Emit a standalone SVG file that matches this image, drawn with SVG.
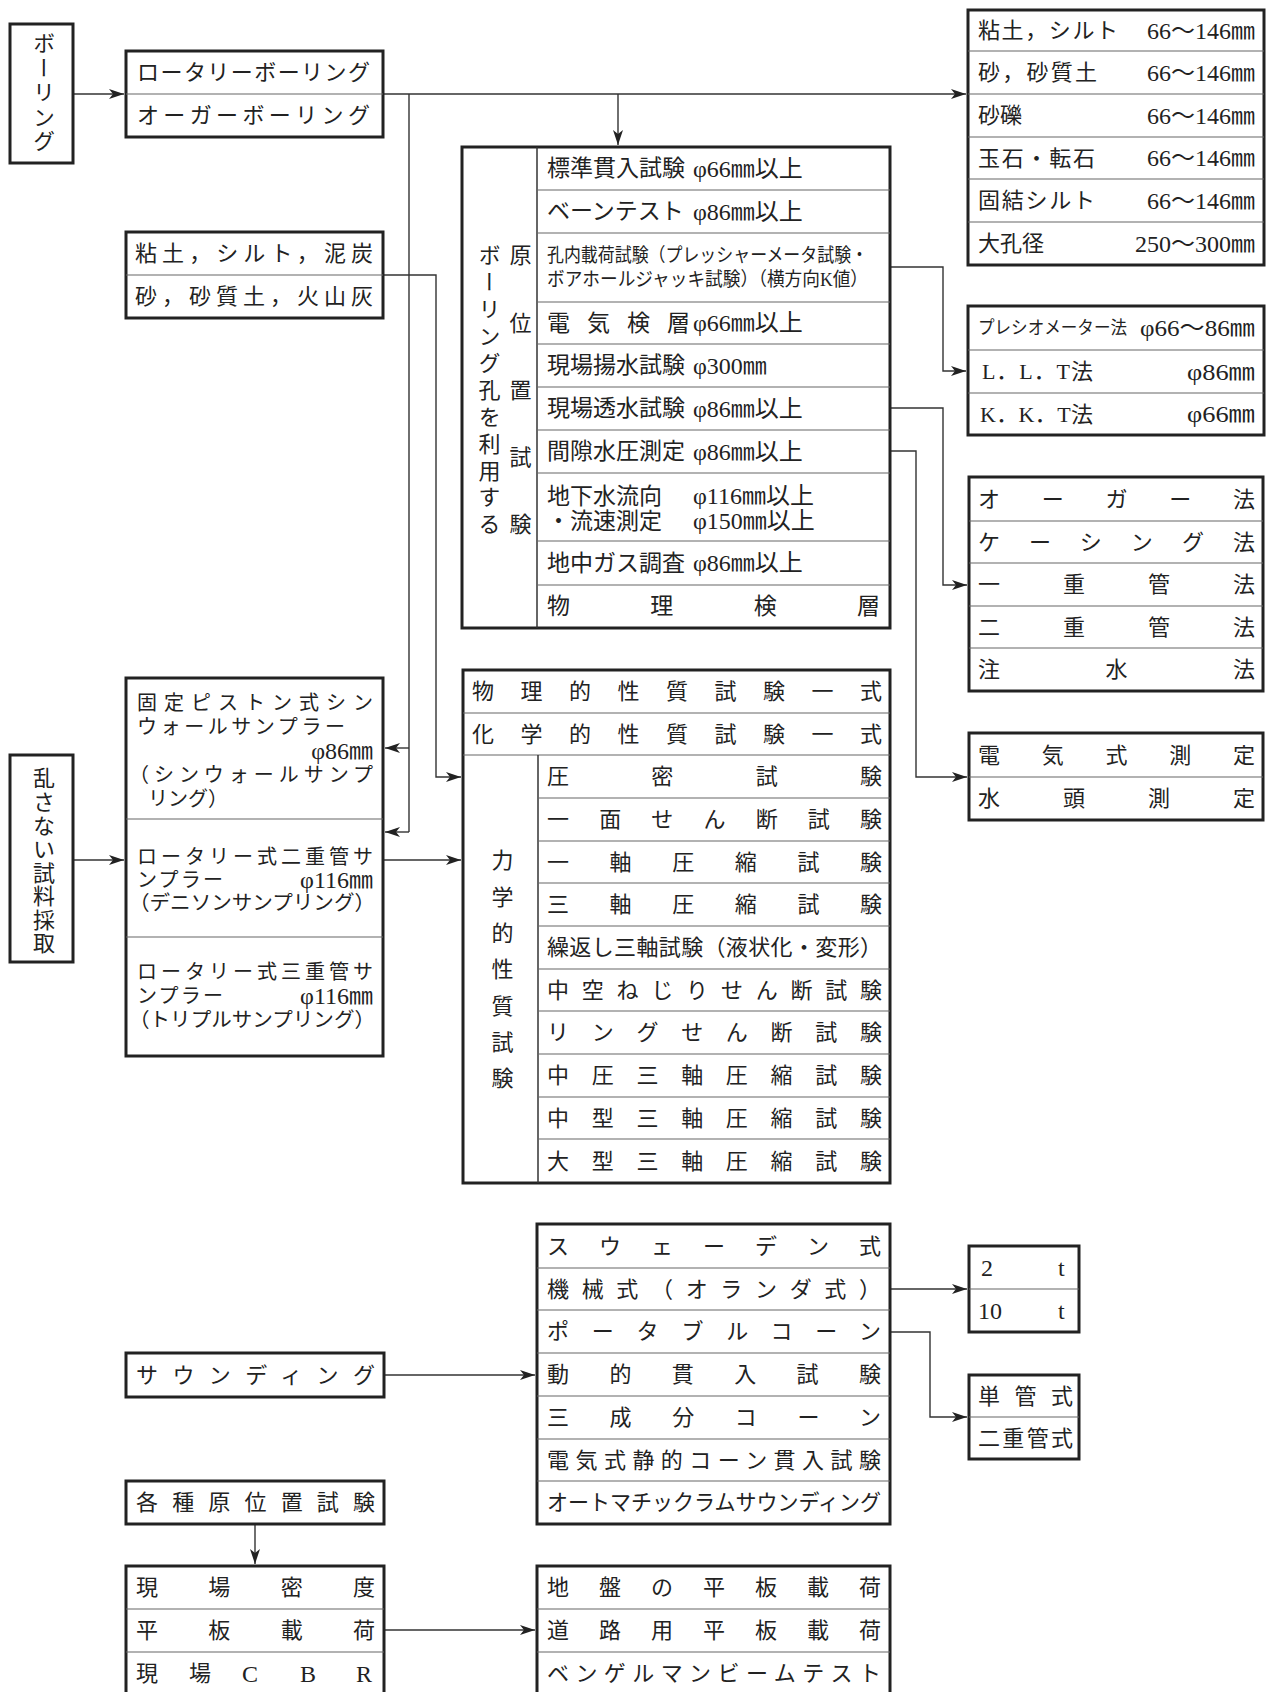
<svg xmlns="http://www.w3.org/2000/svg" width="1268" height="1692" viewBox="0 0 1268 1692">
<style>
.t{font-family:'Liberation Serif','Noto Sans CJK JP',serif;font-size:22px;fill:#222;dominant-baseline:central}
.v{writing-mode:vertical-rl}
.s23{font-size:23px}
.s20{font-size:20px}
.s19{font-size:19px}
.s18{font-size:18px}
.n{font-size:24px}
.box{fill:#fff;stroke:#222;stroke-width:3}
.dv{stroke:#666;stroke-width:1.2;fill:none}
.col{stroke:#333;stroke-width:1.5;fill:none}
.c{fill:none;stroke:#333;stroke-width:1.4;marker-end:url(#ah)}
.cn{fill:none;stroke:#333;stroke-width:1.4}
</style>
<defs>
<marker id="ah" markerUnits="userSpaceOnUse" markerWidth="16" markerHeight="12" refX="15" refY="6" orient="auto">
<path d="M0,1 L15,6 L0,11 L4,6 Z" fill="#222"/>
</marker>
</defs>
<rect width="1268" height="1692" fill="#fff"/>

<g id="connectors">
<path class="c" d="M74,94 H124"/>
<path class="c" d="M383,94 H966"/>
<path class="c" d="M618,94 V145"/>
<path class="cn" d="M409,94 V832"/>
<path class="c" d="M409,748 H385"/>
<path class="c" d="M409,832 H385"/>
<path class="c" d="M383,275 H436 V777 H461"/>
<path class="c" d="M74,860 H124"/>
<path class="c" d="M383,860 H461"/>
<path class="c" d="M890,267 H943 V371 H966"/>
<path class="c" d="M890,408 H943 V585 H967"/>
<path class="c" d="M890,451 H916 V777 H967"/>
<path class="c" d="M384,1375 H535"/>
<path class="c" d="M890,1289 H967"/>
<path class="c" d="M890,1332 H930 V1417 H967"/>
<path class="c" d="M255,1524 V1564"/>
<path class="c" d="M384,1630 H535"/>
</g>

<g id="n-boring">
<rect class="box" x="10" y="24" width="63" height="139"/>
<text class="t v" x="41.5" y="32" textLength="120" lengthAdjust="spacing">ボーリング</text>
</g>

<g id="n-rotary">
<rect class="box" x="126" y="51" width="257" height="86"/>
<line class="dv" x1="126" y1="94" x2="383" y2="94"/>
<text class="t" x="137" y="72.5" textLength="233" lengthAdjust="spacing">ロータリーボーリング</text>
<text class="t" x="137" y="115.5" textLength="233" lengthAdjust="spacing">オーガーボーリング</text>
</g>

<g id="n-soil">
<rect class="box" x="126" y="232" width="257" height="86"/>
<line class="dv" x1="126" y1="275" x2="383" y2="275"/>
<text class="t" x="135" y="253.5" textLength="238" lengthAdjust="spacing">粘土，シルト，泥炭</text>
<text class="t" x="135" y="296.5" textLength="238" lengthAdjust="spacing">砂，砂質土，火山灰</text>
</g>

<g id="n-diameter">
<rect class="box" x="968" y="10" width="296" height="255"/>
<path class="dv" d="M968,51 H1264 M968,94 H1264 M968,137 H1264 M968,179 H1264 M968,222 H1264"/>
<text class="t" x="978" y="30.5" textLength="140" lengthAdjust="spacing">粘土，シルト</text>
<text class="t n" x="1147" y="30.5" textLength="108" lengthAdjust="spacingAndGlyphs">66〜146㎜</text>
<text class="t" x="978" y="72.5" textLength="119" lengthAdjust="spacing">砂，砂質土</text>
<text class="t n" x="1147" y="72.5" textLength="108" lengthAdjust="spacingAndGlyphs">66〜146㎜</text>
<text class="t" x="978" y="115.5">砂礫</text>
<text class="t n" x="1147" y="115.5" textLength="108" lengthAdjust="spacingAndGlyphs">66〜146㎜</text>
<text class="t" x="978" y="158" textLength="117" lengthAdjust="spacing">玉石・転石</text>
<text class="t n" x="1147" y="158" textLength="108" lengthAdjust="spacingAndGlyphs">66〜146㎜</text>
<text class="t" x="978" y="200.5" textLength="117" lengthAdjust="spacing">固結シルト</text>
<text class="t n" x="1147" y="200.5" textLength="108" lengthAdjust="spacingAndGlyphs">66〜146㎜</text>
<text class="t" x="978" y="243.5">大孔径</text>
<text class="t n" x="1135" y="243.5" textLength="120" lengthAdjust="spacingAndGlyphs">250〜300㎜</text>
</g>

<g id="n-pressio">
<rect class="box" x="968" y="306" width="296" height="129"/>
<path class="dv" d="M968,350 H1264 M968,393 H1264"/>
<text class="t s18" x="978" y="328" textLength="149" lengthAdjust="spacingAndGlyphs">プレシオメーター法</text>
<text class="t n" x="1140" y="328" textLength="115" lengthAdjust="spacingAndGlyphs">φ66〜86㎜</text>
<text class="t" x="982" y="371.5" textLength="111" lengthAdjust="spacing">L．L．T法</text>
<text class="t n" x="1187" y="371.5" textLength="68" lengthAdjust="spacingAndGlyphs">φ86㎜</text>
<text class="t" x="980" y="414" textLength="113" lengthAdjust="spacing">K．K．T法</text>
<text class="t n" x="1187" y="414" textLength="68" lengthAdjust="spacingAndGlyphs">φ66㎜</text>
</g>

<g id="n-method">
<rect class="box" x="969" y="477" width="294" height="214"/>
<path class="dv" d="M969,521 H1263 M969,563 H1263 M969,606 H1263 M969,648 H1263"/>
<text class="t" x="978" y="499" textLength="277" lengthAdjust="spacing">オーガー法</text>
<text class="t" x="978" y="542" textLength="277" lengthAdjust="spacing">ケーシング法</text>
<text class="t" x="978" y="584.5" textLength="277" lengthAdjust="spacing">一重管法</text>
<text class="t" x="978" y="627" textLength="277" lengthAdjust="spacing">二重管法</text>
<text class="t" x="978" y="669.5" textLength="277" lengthAdjust="spacing">注水法</text>
</g>

<g id="n-measure">
<rect class="box" x="969" y="733" width="294" height="87"/>
<line class="dv" x1="969" y1="777" x2="1263" y2="777"/>
<text class="t" x="978" y="755" textLength="277" lengthAdjust="spacing">電気式測定</text>
<text class="t" x="978" y="798.5" textLength="277" lengthAdjust="spacing">水頭測定</text>
</g>

<g id="n-insitu">
<rect class="box" x="462" y="147" width="428" height="481"/>
<line class="col" x1="537" y1="147" x2="537" y2="628"/>
<path class="dv" d="M537,190 H890 M537,233 H890 M537,302 H890 M537,344 H890 M537,387 H890 M537,430 H890 M537,473 H890 M537,541 H890 M537,585 H890"/>
<text class="t v" x="487" y="244" textLength="291" lengthAdjust="spacing">ボーリング孔を利用する</text>
<text class="t v" x="518" y="244" textLength="291" lengthAdjust="spacing">原位置試験</text>
<text class="t s23" x="547" y="168.5">標準貫入試験<tspan class="n" x="693">φ66㎜以上</tspan></text>
<text class="t s23" x="547" y="211.5">ベーンテスト<tspan class="n" x="693">φ86㎜以上</tspan></text>
<text class="t s19" x="547" y="255" textLength="321" lengthAdjust="spacingAndGlyphs">孔内載荷試験（プレッシャーメータ試験・</text>
<text class="t s19" x="547" y="279" textLength="321" lengthAdjust="spacingAndGlyphs">ボアホールジャッキ試験）（横方向K値）</text>
<text class="t s23" x="547 587 627 667" y="323">電気検層<tspan class="n" x="693">φ66㎜以上</tspan></text>
<text class="t s23" x="547" y="365.5">現場揚水試験<tspan class="n" x="693">φ300㎜</tspan></text>
<text class="t s23" x="547" y="408.5">現場透水試験<tspan class="n" x="693">φ86㎜以上</tspan></text>
<text class="t s23" x="547" y="451.5">間隙水圧測定<tspan class="n" x="693">φ86㎜以上</tspan></text>
<text class="t s23" x="547" y="496">地下水流向<tspan class="n" x="693">φ116㎜以上</tspan></text>
<text class="t s23" x="547" y="521">・流速測定<tspan class="n" x="693">φ150㎜以上</tspan></text>
<text class="t s23" x="547" y="563">地中ガス調査<tspan class="n" x="693">φ86㎜以上</tspan></text>
<text class="t s23" x="547" y="606.5" textLength="333" lengthAdjust="spacing">物理検層</text>
</g>

<g id="n-lab">
<rect class="box" x="463" y="670" width="427" height="513"/>
<path class="dv" d="M463,713 H890 M463,755 H890"/>
<line class="col" x1="538" y1="755" x2="538" y2="1183"/>
<path class="dv" d="M538,798 H890 M538,841 H890 M538,883 H890 M538,926 H890 M538,969 H890 M538,1011 H890 M538,1054 H890 M538,1097 H890 M538,1139 H890"/>
<text class="t" x="472" y="691.5" textLength="410" lengthAdjust="spacing">物理的性質試験一式</text>
<text class="t" x="472" y="734" textLength="410" lengthAdjust="spacing">化学的性質試験一式</text>
<text class="t v" x="500" y="849" textLength="240" lengthAdjust="spacing">力学的性質試験</text>
<text class="t" x="547" y="776.5" textLength="335" lengthAdjust="spacing">圧密試験</text>
<text class="t" x="547" y="819.5" textLength="335" lengthAdjust="spacing">一面せん断試験</text>
<text class="t" x="547" y="862" textLength="335" lengthAdjust="spacing">一軸圧縮試験</text>
<text class="t" x="547" y="904.5" textLength="335" lengthAdjust="spacing">三軸圧縮試験</text>
<text class="t" x="547" y="947.5" textLength="335" lengthAdjust="spacing">繰返し三軸試験（液状化・変形）</text>
<text class="t" x="547" y="990" textLength="335" lengthAdjust="spacing">中空ねじりせん断試験</text>
<text class="t" x="547" y="1032.5" textLength="335" lengthAdjust="spacing">リングせん断試験</text>
<text class="t" x="547" y="1075.5" textLength="335" lengthAdjust="spacing">中圧三軸圧縮試験</text>
<text class="t" x="547" y="1118" textLength="335" lengthAdjust="spacing">中型三軸圧縮試験</text>
<text class="t" x="547" y="1161" textLength="335" lengthAdjust="spacing">大型三軸圧縮試験</text>
</g>

<g id="n-random">
<rect class="box" x="10" y="755" width="63" height="207"/>
<text class="t v" x="41.5" y="767" textLength="187" lengthAdjust="spacing">乱さない試料採取</text>
</g>

<g id="n-sampler">
<rect class="box" x="126" y="678" width="257" height="378"/>
<path class="dv" d="M126,819 H383 M126,937 H383"/>
<text class="t s20" x="137" y="703" textLength="236" lengthAdjust="spacing">固定ピストン式シン</text>
<text class="t s20" x="137" y="727" textLength="208" lengthAdjust="spacing">ウォールサンプラー</text>
<text class="t s20" x="373" y="751" text-anchor="end"><tspan class="n">φ86㎜</tspan></text>
<text class="t s20" x="129" y="775" textLength="244" lengthAdjust="spacing">（シンウォールサンプ</text>
<text class="t s20" x="148" y="799">リング）</text>
<text class="t s20" x="137" y="857" textLength="236" lengthAdjust="spacing">ロータリー式二重管サ</text>
<text class="t s20" x="137" y="880" textLength="86" lengthAdjust="spacing">ンプラー</text>
<text class="t n" x="373" y="880" text-anchor="end">φ116㎜</text>
<text class="t s20" x="129" y="903" textLength="246" lengthAdjust="spacingAndGlyphs">（デニソンサンプリング）</text>
<text class="t s20" x="137" y="972" textLength="236" lengthAdjust="spacing">ロータリー式三重管サ</text>
<text class="t s20" x="137" y="996" textLength="86" lengthAdjust="spacing">ンプラー</text>
<text class="t n" x="373" y="996" text-anchor="end">φ116㎜</text>
<text class="t s20" x="129" y="1020" textLength="246" lengthAdjust="spacingAndGlyphs">（トリプルサンプリング）</text>
</g>

<g id="n-sounding">
<rect class="box" x="126" y="1353" width="258" height="44"/>
<text class="t" x="136" y="1375" textLength="239" lengthAdjust="spacing">サウンディング</text>
</g>

<g id="n-various">
<rect class="box" x="126" y="1481" width="258" height="43"/>
<text class="t" x="136" y="1502.5" textLength="239" lengthAdjust="spacing">各種原位置試験</text>
</g>

<g id="n-field">
<rect class="box" x="126" y="1566" width="258" height="140"/>
<path class="dv" d="M126,1609 H384 M126,1652 H384"/>
<text class="t" x="136" y="1587.5" textLength="239" lengthAdjust="spacing">現場密度</text>
<text class="t" x="136" y="1630.5" textLength="239" lengthAdjust="spacing">平板載荷</text>
<text class="t" x="136 189" y="1673.5">現場<tspan class="n" x="242 300 356">CBR</tspan></text>
</g>

<g id="n-soundlist">
<rect class="box" x="537" y="1224" width="353" height="300"/>
<path class="dv" d="M537,1268 H890 M537,1310 H890 M537,1353 H890 M537,1396 H890 M537,1439 H890 M537,1481 H890"/>
<text class="t" x="547" y="1246" textLength="334" lengthAdjust="spacing">スウェーデン式</text>
<text class="t" x="547" y="1289" textLength="334" lengthAdjust="spacing">機械式（オランダ式）</text>
<text class="t" x="547" y="1331.5" textLength="334" lengthAdjust="spacing">ポータブルコーン</text>
<text class="t" x="547" y="1374.5" textLength="334" lengthAdjust="spacing">動的貫入試験</text>
<text class="t" x="547" y="1417.5" textLength="334" lengthAdjust="spacing">三成分コーン</text>
<text class="t" x="547" y="1460" textLength="334" lengthAdjust="spacing">電気式静的コーン貫入試験</text>
<text class="t" x="547" y="1502.5" textLength="334" lengthAdjust="spacingAndGlyphs">オートマチックラムサウンディング</text>
</g>

<g id="n-weight">
<rect class="box" x="969" y="1246" width="110" height="86"/>
<line class="dv" x1="969" y1="1289" x2="1079" y2="1289"/>
<text class="t n" x="981" y="1267.5">2<tspan x="1058">t</tspan></text>
<text class="t n" x="978" y="1310.5">10<tspan x="1058">t</tspan></text>
</g>

<g id="n-conetype">
<rect class="box" x="969" y="1375" width="110" height="84"/>
<line class="dv" x1="969" y1="1417" x2="1079" y2="1417"/>
<text class="t" x="978" y="1396" textLength="95" lengthAdjust="spacing">単管式</text>
<text class="t" x="978" y="1438" textLength="95" lengthAdjust="spacing">二重管式</text>
</g>

<g id="n-plate">
<rect class="box" x="537" y="1566" width="353" height="140"/>
<path class="dv" d="M537,1609 H890 M537,1652 H890"/>
<text class="t" x="547" y="1587.5" textLength="334" lengthAdjust="spacing">地盤の平板載荷</text>
<text class="t" x="547" y="1630.5" textLength="334" lengthAdjust="spacing">道路用平板載荷</text>
<text class="t" x="547" y="1673.5" textLength="334" lengthAdjust="spacing">ベンゲルマンビームテスト</text>
</g>
</svg>
